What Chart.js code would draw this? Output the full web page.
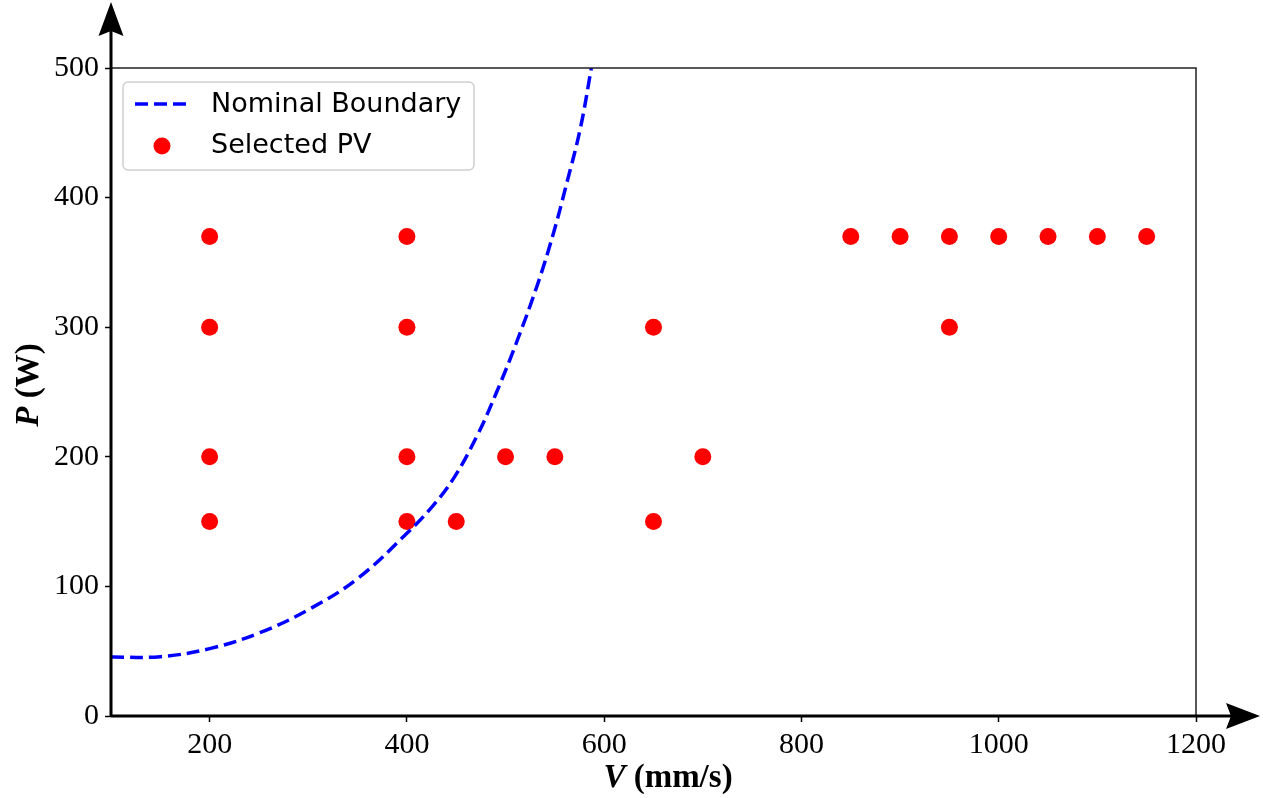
<!DOCTYPE html>
<html>
<head>
<meta charset="utf-8">
<script src="https://cdn.jsdelivr.net/npm/chart.js@4.4.0/dist/chart.umd.min.js"></script>
<style>
  html, body { margin: 0; padding: 0; background: #fff; }
  #chart { display: block; }
</style>
</head>
<body>
<canvas id="chart" width="1263" height="798"></canvas>
<script>
// --- Data ---
const boundaryV = [100, 150, 200, 250, 300, 350, 400, 425, 447, 471, 491, 511, 532, 548, 562, 576, 587];
const boundaryP = [45.5, 45.8, 52, 64, 82, 106, 141, 161, 183, 216, 250, 288, 332, 371, 411, 454, 500];

const selectedV = [200, 200, 200, 200, 400, 400, 400, 400, 450, 500, 550, 650, 650, 700,
                   850, 900, 950, 1000, 1050, 1100, 1150, 950];
const selectedP = [370, 300, 200, 150, 370, 300, 200, 150, 150, 200, 200, 300, 150, 200,
                   370, 370, 370, 370, 370, 370, 370, 300];

const xTicks = [200, 400, 600, 800, 1000, 1200];
const yTicks = [0, 100, 200, 300, 400, 500];

const seriesLabels = ['Nominal Boundary', 'Selected PV'];

const BLUE = '#0000ff';
const RED = '#ff0000';
const SERIF = '"Liberation Serif", "Times New Roman", serif';
const SANS = '"DejaVu Sans", sans-serif';

// --- Custom drawing: spines, arrows, axis titles, legend ---
const decorPlugin = {
    id: 'decor',
    afterDraw(chart) {
        const ctx = chart.ctx;
        const a = chart.chartArea;
        ctx.save();

        // top + right spines (thin)
        ctx.strokeStyle = '#222';
        ctx.lineWidth = 1.5;
        ctx.beginPath();
        ctx.moveTo(a.left, a.top);
        ctx.lineTo(a.right, a.top);
        ctx.lineTo(a.right, a.bottom);
        ctx.stroke();

        // left + bottom spines (thick, with arrows)
        ctx.strokeStyle = '#000';
        ctx.lineWidth = 3;
        ctx.beginPath();
        ctx.moveTo(a.left, a.bottom);
        ctx.lineTo(a.left, 30);
        ctx.moveTo(a.left, a.bottom);
        ctx.lineTo(1232, a.bottom);
        ctx.stroke();

        ctx.fillStyle = '#000';
        // y arrow
        ctx.beginPath();
        ctx.moveTo(a.left, 2);
        ctx.lineTo(a.left + 12.5, 36);
        ctx.lineTo(a.left, 31);
        ctx.lineTo(a.left - 12.5, 36);
        ctx.closePath();
        ctx.fill();
        // x arrow
        ctx.beginPath();
        ctx.moveTo(1260, a.bottom);
        ctx.lineTo(1226, a.bottom + 13);
        ctx.lineTo(1231, a.bottom);
        ctx.lineTo(1226, a.bottom - 13);
        ctx.closePath();
        ctx.fill();

        // axis titles with italic variable symbol
        const drawTitle = (sym, rest, cx, cy, rot) => {
            ctx.save();
            ctx.translate(cx, cy);
            ctx.rotate(rot);
            ctx.textBaseline = 'middle';
            ctx.textAlign = 'left';
            const fItal = 'italic bold 33px ' + SERIF;
            const fBold = 'bold 33px ' + SERIF;
            ctx.font = fItal;
            const w1 = ctx.measureText(sym).width;
            ctx.font = fBold;
            const w2 = ctx.measureText(rest).width;
            const x0 = -(w1 + w2) / 2;
            ctx.font = fItal;
            ctx.fillText(sym, x0, 0);
            ctx.font = fBold;
            ctx.fillText(rest, x0 + w1, 0);
            ctx.restore();
        };
        drawTitle('V', ' (mm/s)', 668, 778, 0);
        drawTitle('P', ' (W)', 29, 385, -Math.PI / 2);

        // legend box
        const lx = 123, ly = 82, lw = 351, lh = 88, r = 5;
        ctx.beginPath();
        ctx.moveTo(lx + r, ly);
        ctx.arcTo(lx + lw, ly, lx + lw, ly + lh, r);
        ctx.arcTo(lx + lw, ly + lh, lx, ly + lh, r);
        ctx.arcTo(lx, ly + lh, lx, ly, r);
        ctx.arcTo(lx, ly, lx + lw, ly, r);
        ctx.closePath();
        ctx.fillStyle = 'rgba(255,255,255,0.8)';
        ctx.fill();
        ctx.strokeStyle = '#d0d0d0';
        ctx.lineWidth = 1.5;
        ctx.stroke();

        ctx.strokeStyle = BLUE;
        ctx.lineWidth = 3.5;
        ctx.setLineDash([13, 6]);
        ctx.beginPath();
        ctx.moveTo(135, 104);
        ctx.lineTo(190, 104);
        ctx.stroke();
        ctx.setLineDash([]);

        ctx.fillStyle = RED;
        ctx.beginPath();
        ctx.arc(162, 146, 8.5, 0, Math.PI * 2);
        ctx.fill();

        ctx.fillStyle = '#000';
        ctx.font = '27px ' + SANS;
        ctx.textBaseline = 'middle';
        ctx.textAlign = 'left';
        ctx.fillText(seriesLabels[0], 211, 105);
        ctx.fillText(seriesLabels[1], 211, 146);

        ctx.restore();
    }
};

const ctx = document.getElementById('chart');
new Chart(ctx, {
    type: 'scatter',
    data: {
        datasets: [{
            type: 'line',
            label: seriesLabels[0],
            data: boundaryV.map((v, i) => ({ x: v, y: boundaryP[i] })),
            borderColor: BLUE,
            borderWidth: 3.5,
            borderDash: [13, 6],
            pointRadius: 0,
            fill: false,
            tension: 0.4
        }, {
            label: seriesLabels[1],
            data: selectedV.map((v, i) => ({ x: v, y: selectedP[i] })),
            backgroundColor: RED,
            borderWidth: 0,
            pointRadius: 8.5
        }]
    },
    options: {
        responsive: false,
        animation: false,
        layout: { padding: { top: 68, right: 67, left: 0, bottom: 0 } },
        plugins: { legend: { display: false }, tooltip: { enabled: false } },
        scales: {
            x: {
                type: 'linear',
                min: 100,
                max: 1200,
                afterBuildTicks: (s) => { s.ticks = xTicks.map(v => ({ value: v })); },
                afterFit: (s) => { s.height = 82; },
                grid: { drawOnChartArea: false, drawTicks: true, tickLength: 6, tickColor: '#000', tickWidth: 1.5 },
                border: { display: false },
                ticks: { color: '#000', padding: 5, maxRotation: 0, font: { family: SERIF, size: 30 },
                         callback: (v) => String(v) }
            },
            y: {
                min: 0,
                max: 500,
                afterBuildTicks: (s) => { s.ticks = yTicks.map(v => ({ value: v })); },
                afterFit: (s) => { s.width = 111; },
                grid: { drawOnChartArea: false, drawTicks: true, tickLength: 6, tickColor: '#000', tickWidth: 1.5 },
                border: { display: false },
                ticks: { color: '#000', padding: 6, font: { family: SERIF, size: 30 },
                         callback: (v) => String(v) }
            }
        }
    },
    plugins: [decorPlugin]
});
</script>
</body>
</html>
